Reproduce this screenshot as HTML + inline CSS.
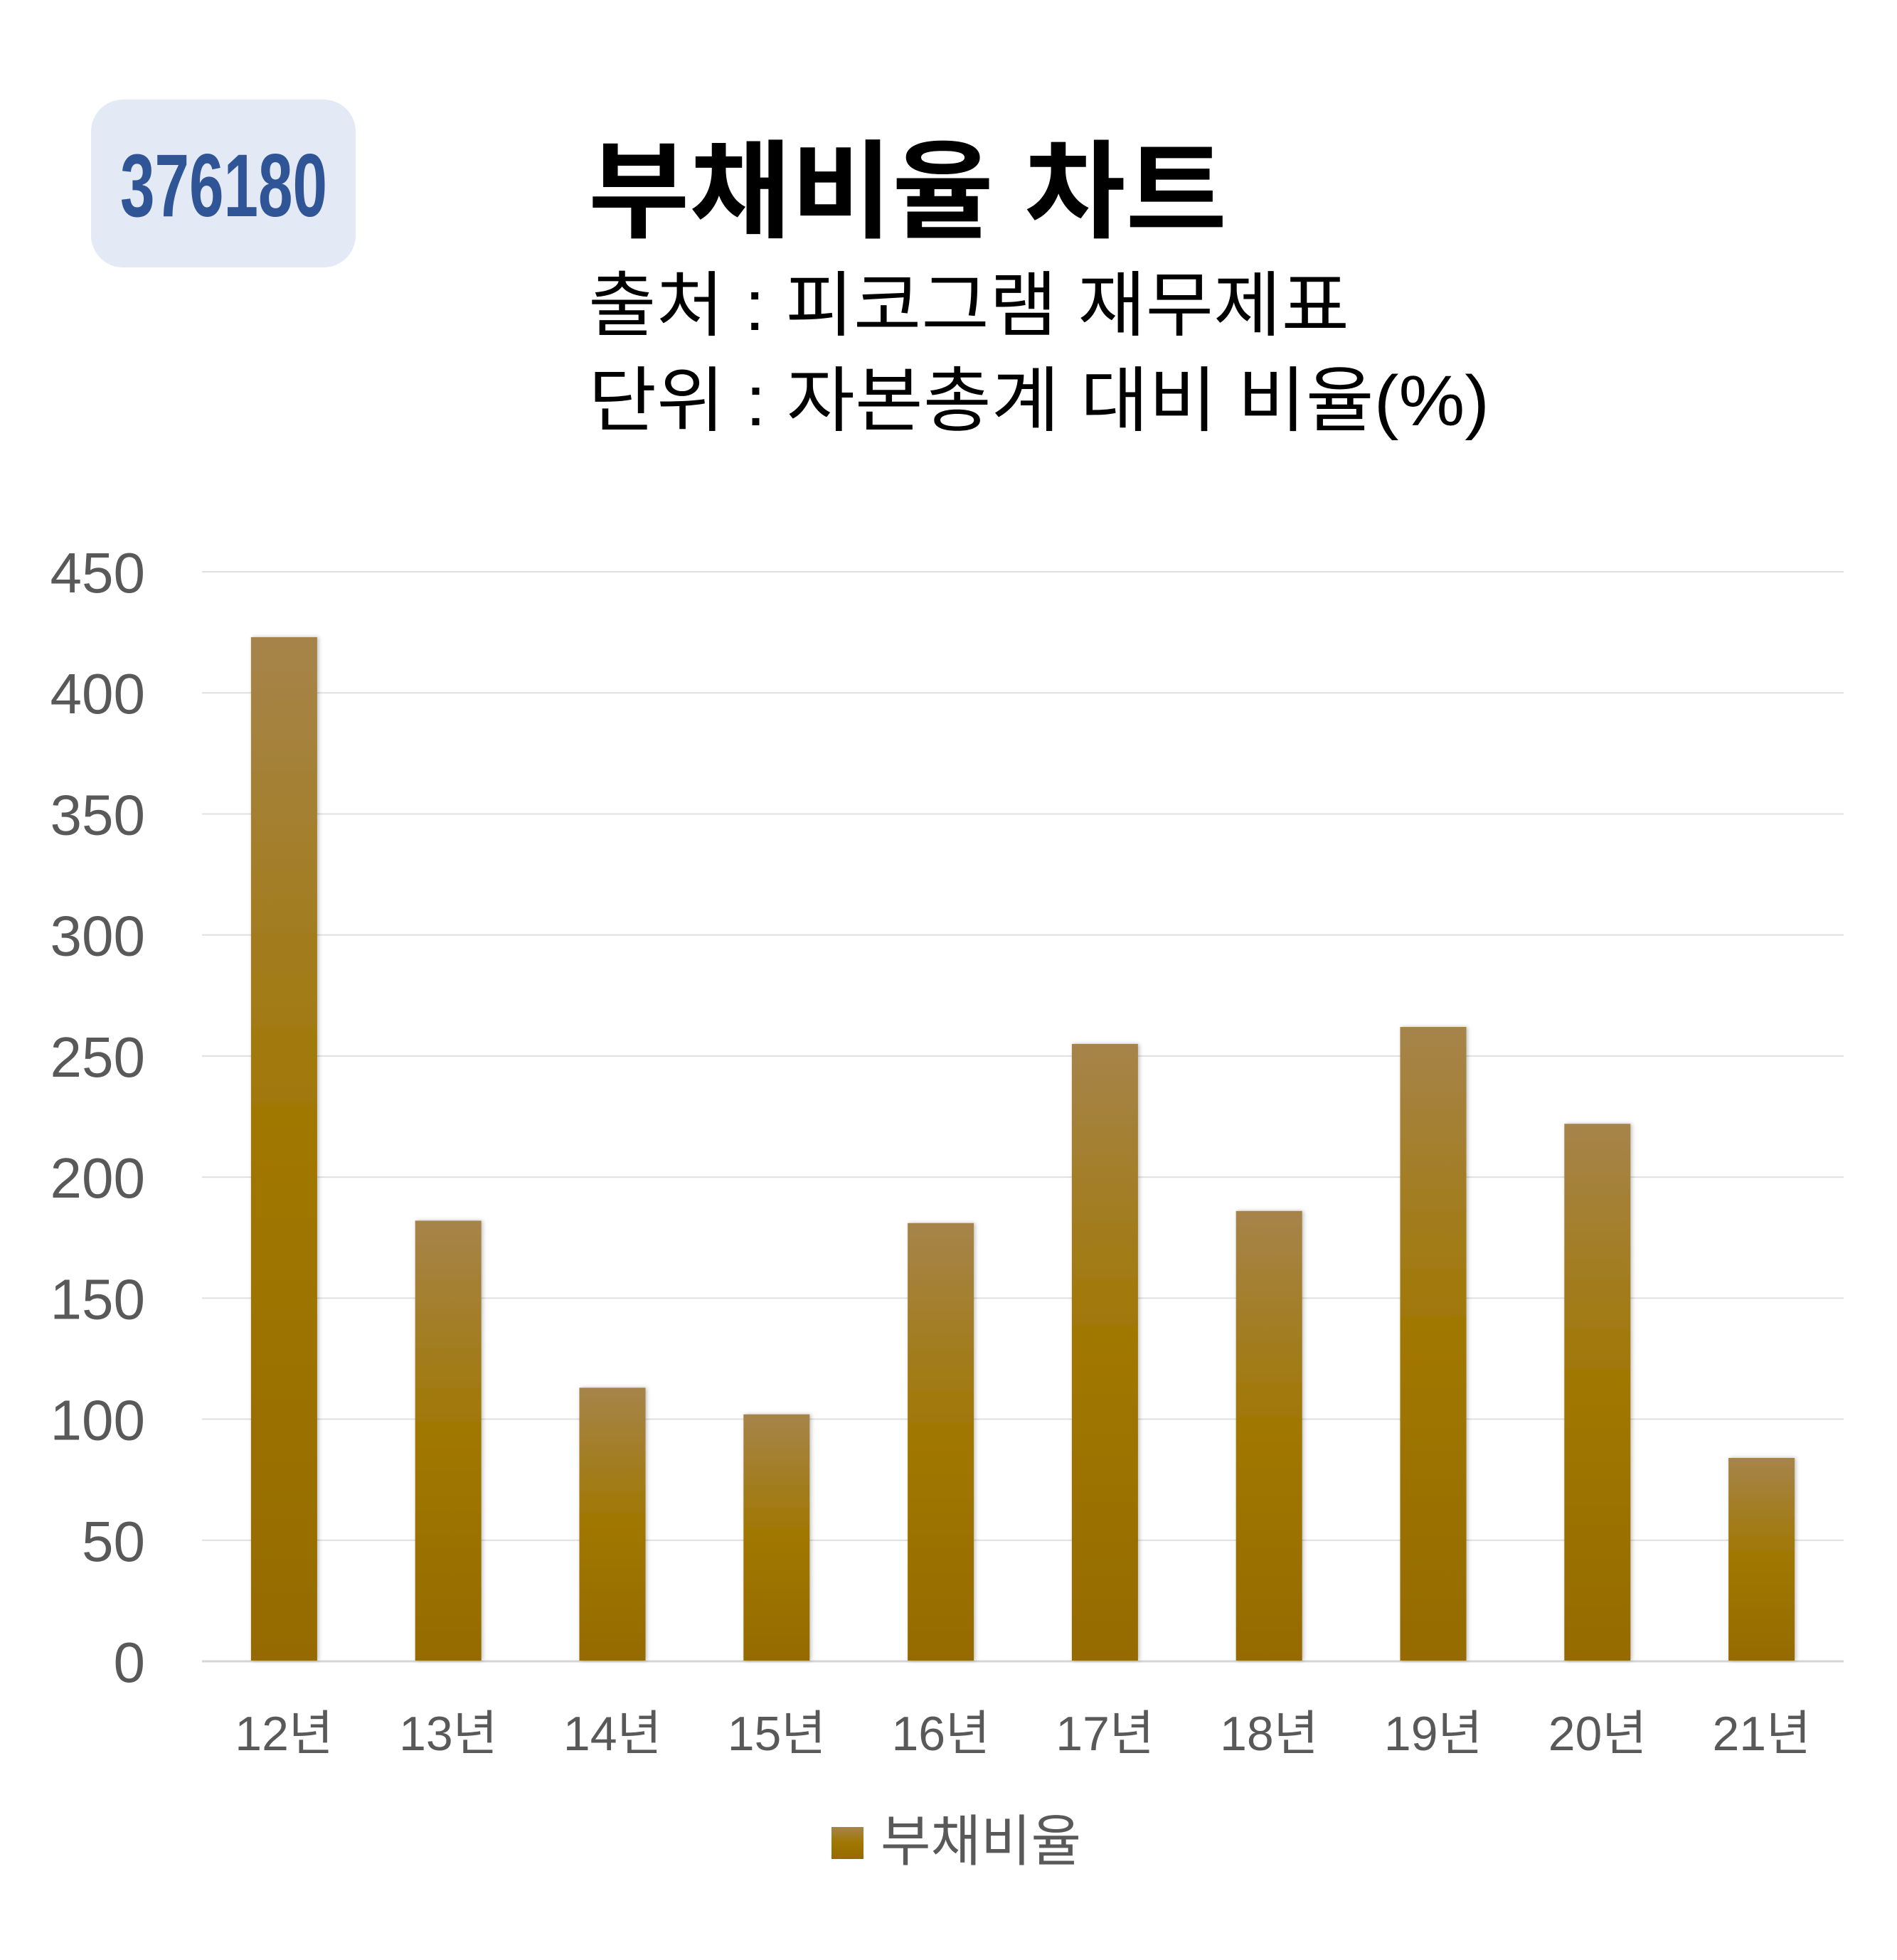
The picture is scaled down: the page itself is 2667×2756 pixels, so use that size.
<!DOCTYPE html>
<html><head><meta charset="utf-8"><style>
html,body{margin:0;padding:0;background:#fff;}
svg{display:block;font-family:"Liberation Sans","Noto Sans CJK KR",sans-serif;}
</style></head><body>
<svg id="chart" width="2667" height="2756" viewBox="0 0 2667 2756" xmlns="http://www.w3.org/2000/svg">
<defs>
<linearGradient id="barGrad" x1="0" y1="0" x2="0" y2="1">
<stop offset="0" stop-color="#a6844a"/>
<stop offset="0.5" stop-color="#a07700"/>
<stop offset="1" stop-color="#956b00"/>
</linearGradient>
<filter id="shadow" x="-20%" y="-5%" width="140%" height="110%"><feDropShadow dx="2" dy="0" stdDeviation="3" flood-color="#000" flood-opacity="0.25"/></filter>
</defs>
<rect x="128" y="140" width="372" height="236" rx="45" fill="#e3e9f5"/>
<text x="169" y="304" font-size="125" font-weight="bold" fill="#2f5597" textLength="291" lengthAdjust="spacingAndGlyphs">376180</text>
<text x="827" y="322" font-size="150" font-weight="bold" fill="#000" textLength="898" lengthAdjust="spacingAndGlyphs">부채비율 차트</text>
<text x="827" y="464" font-size="100" fill="#000" textLength="1070" lengthAdjust="spacingAndGlyphs">출처 : 피코그램 재무제표</text>
<text x="827" y="598" font-size="100" fill="#000" textLength="1267" lengthAdjust="spacingAndGlyphs">단위 : 자본총계 대비 비율(%)</text>
<g id="grid"></g>
<g id="yaxis"></g>
<g id="bars"></g>
<g id="xaxis"></g>
<g>
<rect x="1169" y="2569" width="45" height="45" fill="url(#barGrad)"/>
<text x="1238" y="2616" font-size="78" fill="#595959" textLength="282" lengthAdjust="spacingAndGlyphs">부채비율</text>
</g>
</svg>
<script>
const categories = ["12년","13년","14년","15년","16년","17년","18년","19년","20년","21년"];
const debtRatio = [423, 182, 113, 102, 181, 255, 186, 262, 222, 84];
const yTicks = [0, 50, 100, 150, 200, 250, 300, 350, 400, 450];

const NS = "http://www.w3.org/2000/svg";
const plotL = 284, plotR = 2592, plotTop = 804, plotBot = 2336, yMax = 450;
const band = (plotR - plotL) / categories.length;
const barW = 93;
function yScale(v){ return plotBot - (v / yMax) * (plotBot - plotTop); }
function xCenter(i){ return plotL + band * (i + 0.5); }
function mk(tag, attrs){ const e = document.createElementNS(NS, tag); for (const k in attrs) e.setAttribute(k, attrs[k]); return e; }

const grid = document.getElementById('grid'), yaxis = document.getElementById('yaxis');
yTicks.forEach(t => {
  const y = yScale(t);
  const ln = mk('line', {x1: plotL, x2: plotR, y1: y, y2: y, stroke: t === 0 ? '#d6d6d6' : '#e0e0e0', 'stroke-width': t === 0 ? 3 : 2});
  
  
  grid.appendChild(ln);
  const tx = mk('text', {x: 204, y: y + 29, 'text-anchor': 'end', 'font-size': 80, fill: '#595959'});
  
  
  tx.textContent = t;
  yaxis.appendChild(tx);
});

const bars = document.getElementById('bars'), xaxis = document.getElementById('xaxis');
categories.forEach((c, i) => {
  const cx = xCenter(i), y = yScale(debtRatio[i]);
  const r = mk('rect', {x: cx - barW / 2, y: y, width: barW, height: plotBot - y - 1, fill: 'url(#barGrad)', filter: 'url(#shadow)'});
  
  
  bars.appendChild(r);
  const tx = mk('text', {x: cx, y: 2461, 'text-anchor': 'middle', 'font-size': 68, fill: '#595959'});
  
  
  tx.textContent = c;
  xaxis.appendChild(tx);
});
</script>
</body></html>
